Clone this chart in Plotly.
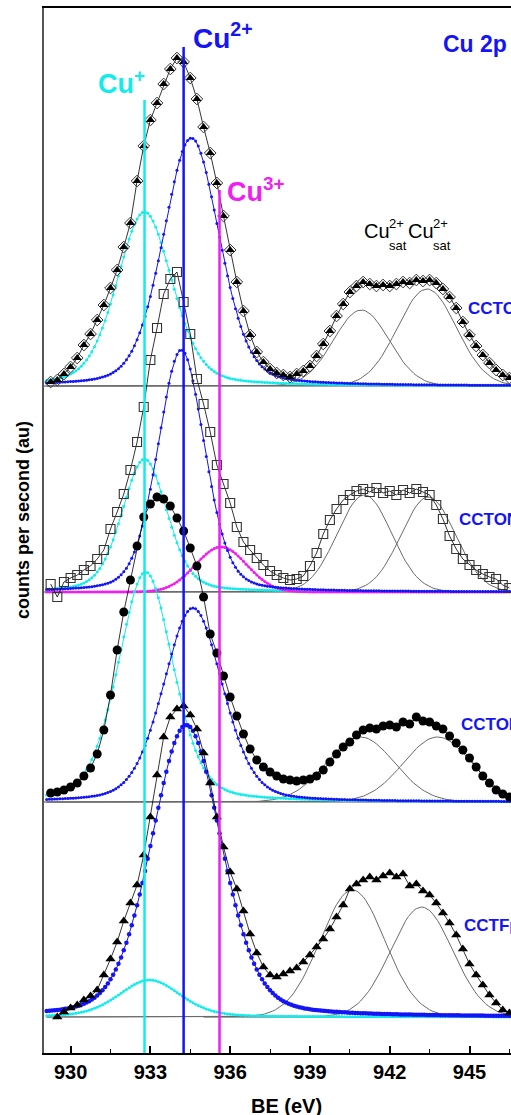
import numpy as np
import plotly.graph_objects as go

# ---------------- data (heights above each spectrum's baseline, a.u.) ----------------
be = np.round(np.arange(929.25, 946.51, 0.25), 2)  # binding energy grid (eV)

ccto = [4, 6, 12, 19, 28, 41, 52, 66, 81, 98, 116, 139, 163, 205, 240, 266, 283, 302, 317, 328,
        324, 308, 287, 259, 233, 203, 170, 136, 104, 75, 51, 34, 24, 17, 13, 11, 9, 12, 15, 20,
        30, 42, 55, 70, 82, 94, 100, 104, 102, 100, 101, 100, 102, 104, 103, 106, 105, 106, 103, 97,
        89, 78, 64, 51, 40, 31, 23, 16, 11, 8]
ccton = [8, -5, 10, 14, 17, 22, 26, 33, 42, 63, 80, 98, 122, 150, 185, 232, 264, 298, 313, 320,
         290, 258, 213, 188, 160, 127, 108, 89, 65, 50, 42, 34, 27, 21, 17, 14, 12, 13, 16, 26,
         39, 58, 72, 83, 92, 97, 101, 103, 100, 104, 99, 101, 97, 102, 99, 103, 100, 97, 87, 73,
         56, 43, 33, 27, 22, 18, 15, 13, 7, 4]
cctof = [9, 10, 12, 15, 19, 26, 34, 48, 72, 107, 152, 190, 222, 256, 285, 298, 305, 303, 296, 284,
         271, 254, 236, 205, 168, 149, 126, 105, 86, 68, 53, 42, 35, 30, 26, 23, 22, 21, 22, 23,
         26, 32, 40, 48, 55, 60, 67, 72, 74, 73, 76, 77, 75, 80, 78, 85, 81, 80, 76, 73,
         66, 59, 52, 44, 35, 26, 19, 12, 8, 5]
cctfp = [None, 0, 5, 9, 12, 17, 21, 27, 42, 58, 75, 96, 114, 132, 162, 200, 242, 280, 300, 308,
         311, 302, 288, 264, 234, 200, 170, 145, 128, 106, 83, 64, 50, 42, 40, 43, 46, 49, 55, 62,
         70, 78, 88, 100, 112, 128, 133, 137, 140, 137, 141, 144, 140, 143, 131, 133, 126, 122, 114, 104,
         94, 82, 68, 53, 42, 32, 22, 14, 7, 4]

samples = ["CCTO", "CCTON", "CCTOF", "CCTFp"]
offsets = [667, 461, 251, 36]          # vertical stacking offset of each spectrum

# fitted components (one entry per spectrum)
cu1_center = [932.78, 932.78, 932.82, 932.97]
cu1_height = [174, 133, 230, 37]
cu1_fwhm = [2.45, 2.0, 2.44, 2.74]
cu2_center = [934.54, 934.16, 934.60, 934.35]
cu2_height = [248, 242, 194, 292]
cu2_fwhm = [2.5, 2.07, 2.63, 3.1]
cu3_center, cu3_height, cu3_fwhm = 935.66, 45, 2.26     # only in CCTON
sat1_center = [940.93, 941.05, 940.9, 940.6]
sat1_height = [76, 97, 65, 127]
sat1_fwhm = [2.45, 2.4, 3.0, 2.85]
sat2_center = [943.4, 943.45, 943.8, 943.2]
sat2_height = [97, 95, 65, 110]
sat2_fwhm = [2.6, 2.4, 3.0, 2.75]

ref_be = [932.78, 934.25, 935.6]       # Cu+, Cu2+, Cu3+ reference positions

# ---------------- helpers ----------------
def pv(x, c, h, w, eta):
    d = (x - c) / w
    return h * (eta / (1 + 4 * d * d) + (1 - eta) * np.exp(-4 * np.log(2) * d * d))

xf = np.arange(929.1, 946.61, 0.1)
W, H = 511, 1115
L, T, B = 44, 8, 62
PW, PH = W - L, H - T - B

def px(x):
    return (x - L) / PW

def py(y):
    return (H - B - y) / PH

CYAN, BLUE, MAG = "#12ECEC", "#1414F5", "#F01EF0"
FONT = "Liberation Sans"

fig = go.Figure()

for i in range(4):
    off = offsets[i]
    # satellites
    for c, h, w in ((sat1_center[i], sat1_height[i], sat1_fwhm[i]),
                    (sat2_center[i], sat2_height[i], sat2_fwhm[i])):
        fig.add_trace(go.Scatter(x=xf, y=off + pv(xf, c, h, w, 0.0), mode="lines",
                                 line=dict(color="#6a6a6a", width=1), hoverinfo="skip"))
    # Cu+ component
    fig.add_trace(go.Scatter(x=xf, y=off + pv(xf, cu1_center[i], cu1_height[i], cu1_fwhm[i], 0.3),
                             mode="lines+markers", line=dict(color=CYAN, width=1),
                             marker=dict(color=CYAN, size=3), hoverinfo="skip"))
    # Cu3+ component
    if i == 1:
        fig.add_trace(go.Scatter(x=xf, y=off + pv(xf, cu3_center, cu3_height, cu3_fwhm, 0.0),
                                 mode="lines+markers", line=dict(color=MAG, width=1.5),
                                 marker=dict(color=MAG, size=3), hoverinfo="skip"))
    # Cu2+ component
    fig.add_trace(go.Scatter(x=xf, y=off + pv(xf, cu2_center[i], cu2_height[i], cu2_fwhm[i], 0.25),
                             mode="lines+markers", line=dict(color=BLUE, width=1),
                             marker=dict(color=BLUE, size=4.5 if i == 3 else 3), hoverinfo="skip"))

# measured spectra
data = [ccto, ccton, cctof, cctfp]
for i, vals in enumerate(data):
    y = [None if v is None else offsets[i] + v for v in vals]
    if i == 0:
        fig.add_trace(go.Scatter(x=be, y=y, mode="lines+markers", line=dict(color="black", width=0.8),
                                 marker=dict(symbol="diamond-open", size=9, color="#333",
                                             line=dict(width=1)), hoverinfo="skip"))
        fig.add_trace(go.Scatter(x=be, y=y, mode="markers",
                                 marker=dict(symbol="triangle-up", size=8, color="black"), hoverinfo="skip"))
    elif i == 1:
        fig.add_trace(go.Scatter(x=be, y=y, mode="lines+markers", line=dict(color="black", width=0.8),
                                 marker=dict(symbol="square-open", size=9, color="#333",
                                             line=dict(width=1.1)), hoverinfo="skip"))
    elif i == 2:
        fig.add_trace(go.Scatter(x=be, y=y, mode="lines+markers", line=dict(color="black", width=0.8),
                                 marker=dict(symbol="circle", size=9, color="black"), hoverinfo="skip"))
    else:
        fig.add_trace(go.Scatter(x=be, y=y, mode="lines+markers", line=dict(color="black", width=0.8),
                                 marker=dict(symbol="triangle-up", size=9, color="black"), hoverinfo="skip"))

shapes = []
# baselines
for i, off in enumerate(offsets):
    shapes.append(dict(type="line", xref="x", yref="y", x0=935.0 if i == 3 else 929.0, x1=946.6,
                       y0=off, y1=off, line=dict(color="#8a8a8a", width=1.5), layer="below"))
# reference vertical lines
ref_top = [953, 1006, 863]
for xv, yt, col in zip(ref_be, ref_top, [CYAN, BLUE, MAG]):
    shapes.append(dict(type="line", xref="x", yref="y", x0=xv, x1=xv, y0=0, y1=yt,
                       line=dict(color=col, width=2.5)))

ann = []
def text(t, x, y, size, color="black", bold=True, xanchor="left", angle=0, xref="paper"):
    ann.append(dict(text=t, x=x, y=y, xref=xref, yref="paper", showarrow=False,
                    xanchor=xanchor, yanchor="middle", textangle=angle,
                    font=dict(family=FONT, size=size, color=color, weight="bold" if bold else "normal")))

text("Cu<sup>+</sup>", px(96), py(82), 27, CYAN)
text("Cu<sup>2+</sup>", px(191), py(36), 28, BLUE)
text("Cu<sup>3+</sup>", px(225), py(190), 27, MAG)
text("Cu 2p", px(441), py(44), 23, BLUE)
# Cu2+sat Cu2+sat with stacked super/subscripts
text("Cu", px(362), py(231), 20, bold=False)
text("2+", px(387), py(224), 13, bold=False)
text("sat", px(387), py(245), 13, bold=False)
text("Cu", px(406), py(231), 20, bold=False)
text("2+", px(431), py(224), 13, bold=False)
text("sat", px(431), py(245), 13, bold=False)
for s, xl, yc in zip(samples, [466, 457, 459, 462], [308, 519, 724, 925]):
    text(s, px(xl), py(yc), 17, BLUE)
text("BE (eV)", 938.1, py(1106), 20, xanchor="center", xref="x")
text("counts per second (au)", px(23), py(520), 18, xanchor="center", angle=-90)

fig.update_layout(
    width=W, height=H, margin=dict(l=L, r=0, t=T, b=B),
    paper_bgcolor="white", plot_bgcolor="white", showlegend=False,
    shapes=shapes, annotations=ann,
    xaxis=dict(range=[929.0, 946.56], tickmode="linear", tick0=930, dtick=3,
               ticks="inside", ticklen=7, tickwidth=1.5, tickcolor="black",
               minor=dict(tick0=930, dtick=1.5, ticks="inside", ticklen=4, tickwidth=1.2, tickcolor="black"),
               showline=True, linecolor="black", linewidth=2, mirror=True, showgrid=False, zeroline=False,
               tickfont=dict(family=FONT, size=20, color="black", weight="bold")),
    yaxis=dict(range=[0, PH], showticklabels=False, ticks="", showline=True, linecolor="#555",
               linewidth=2, showgrid=False, zeroline=False),
)

fig.write_html("out.html")
